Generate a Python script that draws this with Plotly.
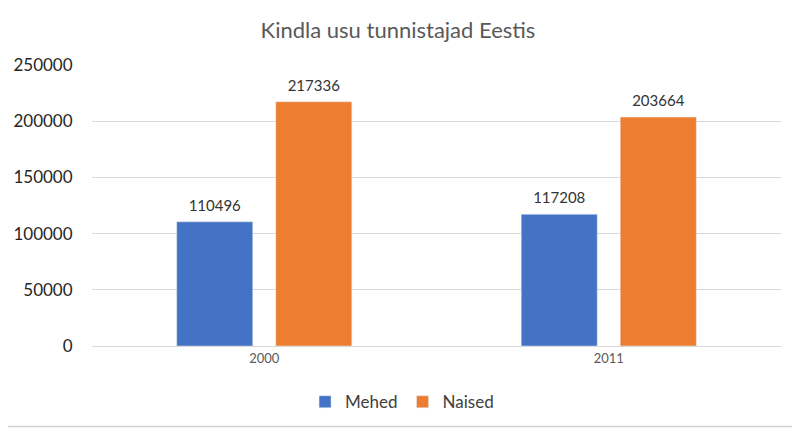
import plotly.graph_objects as go

categories = ["2000", "2011"]
mehed = [110496, 117208]
naised = [217336, 203664]
series_names = ["Mehed", "Naised"]
y_ticks = [0, 50000, 100000, 150000, 200000, 250000]

FONT = "Lato"
BLUE = "#4472C4"
ORANGE = "#ED7D31"

# page body has an 8px margin; offsets compensate so the plot sits like the reference
W, H = 800, 429
L, R, T, B = 84, 27, 57, 91
PW, PH = W - L - R, H - T - B

fig = go.Figure()
for i, (name, vals, col) in enumerate(((series_names[0], mehed, BLUE),
                                       (series_names[1], naised, ORANGE))):
    fig.add_trace(go.Bar(x=categories, y=vals, name=name, marker_color=col,
                         offsetgroup=str(i), alignmentgroup="a"))
for i, vals in enumerate((mehed, naised)):
    fig.add_trace(go.Scatter(x=categories, y=vals, mode="markers+text",
                             text=[str(v) for v in vals], textposition="top center",
                             marker=dict(size=10, opacity=0), cliponaxis=False,
                             offsetgroup=str(i), alignmentgroup="a",
                             showlegend=False, hoverinfo="skip",
                             textfont=dict(family=FONT, size=15, color="#333333")))

fig.update_layout(
    width=W, height=H,
    margin=dict(l=L, r=R, t=T, b=B, autoexpand=False),
    paper_bgcolor="white", plot_bgcolor="white",
    barmode="group", bargap=0.425, bargroupgap=0.232,
    scattermode="group", scattergap=0.425,
    title=dict(text="Kindla usu tunnistajad Eestis", x=0.4875, xref="container",
               xanchor="center", y=1 - 22 / H, yanchor="middle",
               font=dict(family=FONT, size=22, color="#595959")),
    font=dict(family=FONT),
    showlegend=True,
    legend=dict(orientation="h", x=0.45, xanchor="center", y=-0.2, yanchor="middle",
                font=dict(family=FONT, size=17, color="#404040")),
    shapes=[dict(type="rect", xref="paper", yref="paper",
                 x0=-(L + 20) / PW, x1=1 + 13 / PW,
                 y0=-(B - 10.5) / PH, y1=1 + (T + 20) / PH,
                 line=dict(color="#D0D0D0", width=1.5), fillcolor="rgba(0,0,0,0)",
                 layer="below")],
)
fig.update_yaxes(range=[0, 250000], tickvals=y_ticks, ticktext=[str(t) for t in y_ticks],
                 showgrid=True, gridcolor="#D9D9D9", gridwidth=1, zeroline=False,
                 showline=False, ticks="outside", ticklen=15, tickcolor="rgba(0,0,0,0)",
                 tickfont=dict(family=FONT, size=17, color="#262626"))
fig.update_xaxes(type="category", showgrid=False, showline=True, linecolor="#D9D9D9",
                 linewidth=1, ticks="",
                 tickfont=dict(family=FONT, size=13, color="#595959"))

fig.write_html("out.html")
